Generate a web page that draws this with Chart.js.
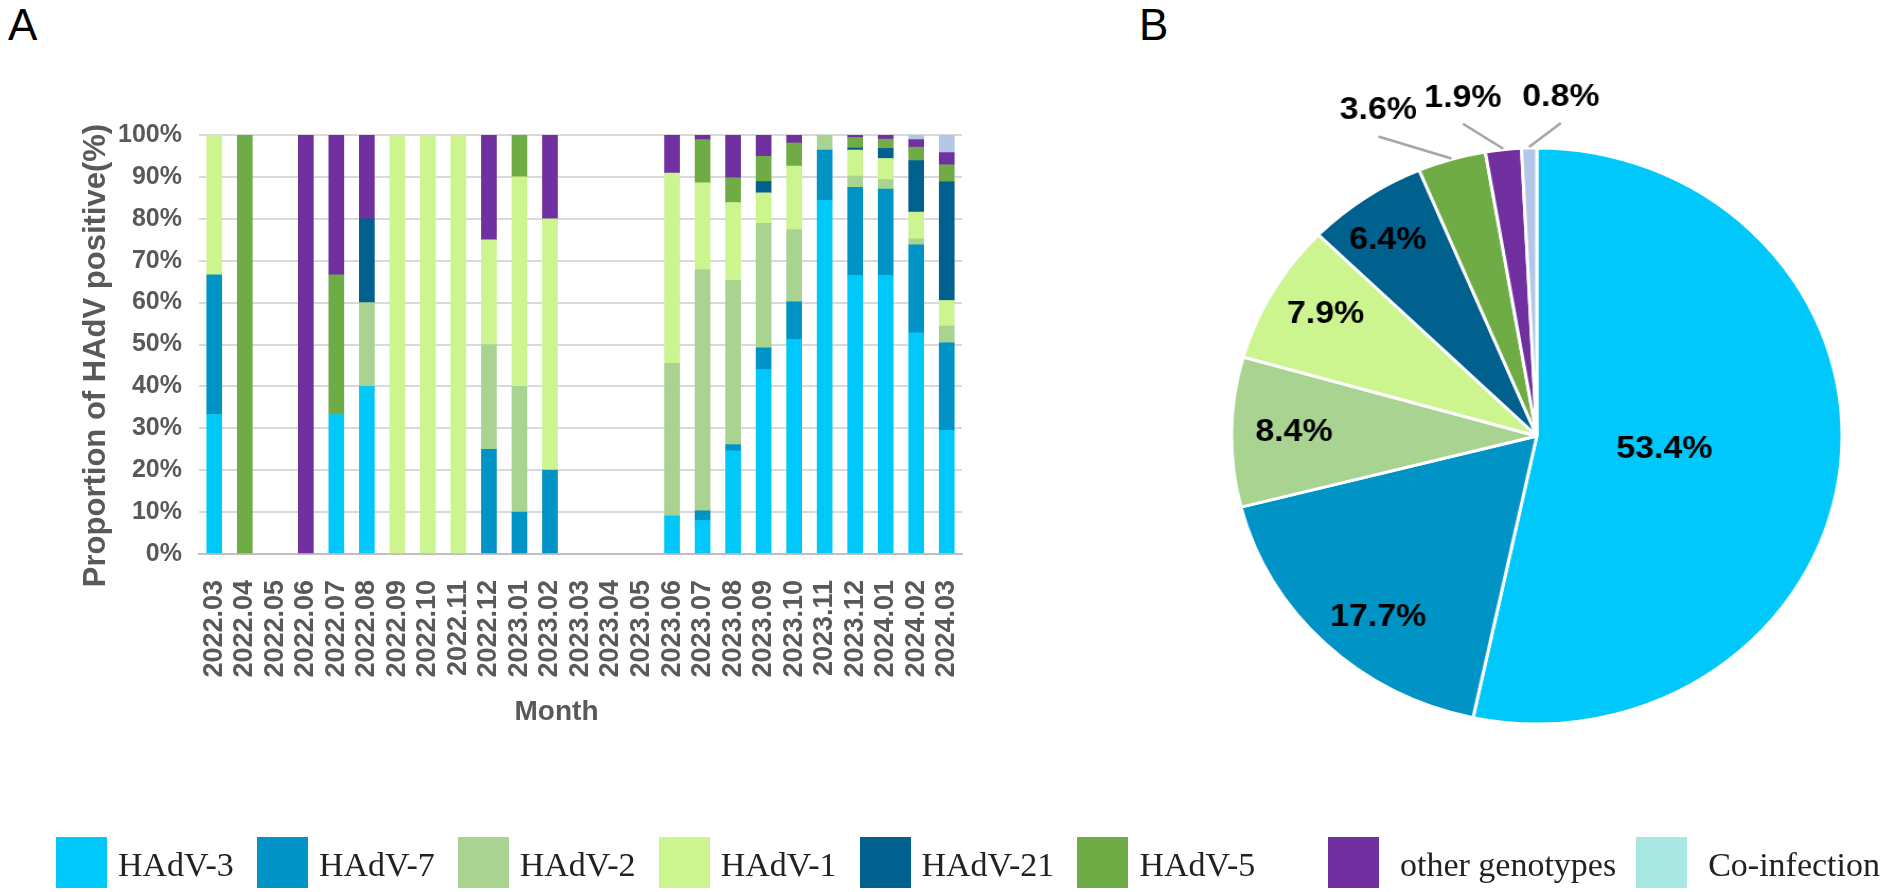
<!DOCTYPE html>
<html>
<head>
<meta charset="UTF-8" />
<title>HAdV genotypes</title>
<script src="https://cdn.jsdelivr.net/npm/chart.js"></script>
<style>
html, body { margin:0; padding:0; background:#fff; }
body { width:1890px; height:892px; position:relative; overflow:hidden; font-family:"Liberation Sans", Arial, sans-serif; }
.panel-tag { position:absolute; top:3px; font-size:44px; line-height:1; color:#000; }
#barBox { position:absolute; left:0; top:0; width:1000px; height:760px; }
#pieBox { position:absolute; left:1187px; top:0; width:660px; height:872px; transform:scaleX(1.06); transform-origin:0 0; }
.legend { position:absolute; top:837px; height:51px; display:flex; align-items:center; }
.legend .item { display:flex; align-items:center; }
.legend .sw { width:51px; height:51px; }
.legend .lbl { font-family:"Liberation Serif", "Times New Roman", serif; font-size:34px; line-height:1; color:#222; padding-top:4px; }
#legLeft { left:56px; }
#legLeft .item { margin-right:23px; }
#legLeft .sw { margin-right:11px; }
#legRight { right:10px; }
#legRight .item { margin-left:20px; }
#legRight .sw { margin-right:21px; }
</style>
</head>
<body>

<div class="panel-tag" style="left:8px;">A</div>
<div class="panel-tag" style="left:1139px;">B</div>

<div id="barBox"><canvas id="bar"></canvas></div>
<div id="pieBox"><canvas id="pie"></canvas></div>

<div class="legend" id="legLeft"></div>
<div class="legend" id="legRight"></div>

<script>
// months on the x axis of panel A
const months = ['2022.03','2022.04','2022.05','2022.06','2022.07','2022.08','2022.09','2022.10','2022.11','2022.12',
  '2023.01','2023.02','2023.03','2023.04','2023.05','2023.06','2023.07','2023.08','2023.09','2023.10',
  '2023.11','2023.12','2024.01','2024.02','2024.03'];

// share of each genotype per month (%)
const hadv3  = [33.3,0,0,0,33.3,40,0,0,0,0,0,0,0,0,0,9.1,8.0,24.6,44.1,51.2,84.4,66.5,66.5,52.8,29.5];
const hadv7  = [33.3,0,0,0,0,0,0,0,0,25,10,20,0,0,0,0,2.3,1.5,5.1,9.0,12.0,21.0,20.6,21.0,20.9];
const hadv2  = [0,0,0,0,0,20,0,0,0,25,30,0,0,0,0,36.4,57.6,39.2,29.7,17.2,3.6,2.7,2.3,1.4,4.0];
const hadv1  = [33.4,0,0,0,0,0,100,100,100,25,50,60,0,0,0,45.4,20.7,18.6,7.3,15.2,0,6.2,5.0,6.4,6.1];
const hadv21 = [0,0,0,0,0,20,0,0,0,0,0,0,0,0,0,0,0,0,2.7,0,0,0.5,2.4,12.3,28.3];
const hadv5  = [0,100,0,0,33.3,0,0,0,0,0,10,0,0,0,0,0,10.3,5.9,6.0,5.5,0,2.5,2.2,3.2,4.1];
const otherTypes  = [0,0,0,100,33.4,20,0,0,0,25,0,20,0,0,0,9.1,1.1,10.2,5.1,1.9,0,0.6,1.0,1.8,2.9];
const coInfection = [0,0,0,0,0,0,0,0,0,0,0,0,0,0,0,0,0,0,0,0,0,0,0,1.1,4.2];

// panel B, overall share (%)
const pieValues = [53.4, 17.7, 8.4, 7.9, 6.4, 3.6, 1.9, 0.8];

const seriesNames = ['HAdV-3','HAdV-7','HAdV-2','HAdV-1','HAdV-21','HAdV-5','other genotypes','Co-infection'];
const yTicks = [0,10,20,30,40,50,60,70,80,90,100];

const seriesColors = ['#00c8fa','#0094c6','#a9d390','#ccf590','#00608e','#6fac46','#7030a0','#b4c6e7'];
const legendColors = ['#00c8fa','#0094c6','#a9d390','#ccf590','#00608e','#6fac46','#7030a0','#a9e7e2'];

const grey = '#595959';
const sans = '"Liberation Sans", Arial, sans-serif';
Chart.defaults.font.family = sans;
Chart.defaults.color = grey;

const seriesData = [hadv3, hadv7, hadv2, hadv1, hadv21, hadv5, otherTypes, coInfection];

// axis titles drawn by hand so they can sit where the original put them
const axisTitles = {
  id: 'axisTitles',
  afterDraw(chart, args, o) {
    const { ctx, chartArea: a } = chart;
    ctx.save();
    ctx.fillStyle = grey;
    ctx.textAlign = 'center';
    ctx.textBaseline = 'middle';
    ctx.font = 'bold 31px ' + sans;
    ctx.translate(o.yX, (a.top + a.bottom) / 2 + o.yShift);
    ctx.rotate(-Math.PI / 2);
    ctx.fillText(o.yText, 0, 0);
    ctx.restore();
    ctx.save();
    ctx.fillStyle = grey;
    ctx.textAlign = 'center';
    ctx.textBaseline = 'middle';
    ctx.font = 'bold 28px ' + sans;
    ctx.fillText(o.xText, (a.left + a.right) / 2 + o.xShift, o.xY);
    ctx.restore();
  }
};

new Chart(document.getElementById('bar'), {
  type: 'bar',
  data: {
    labels: months,
    datasets: seriesData.map((d, i) => ({
      label: seriesNames[i],
      data: d.map(v => v || null),
      backgroundColor: seriesColors[i],
      borderWidth: 0,
      barThickness: 15
    }))
  },
  options: {
    responsive: true,
    maintainAspectRatio: false,
    animation: false,
    layout: { padding: { top: 135, right: 38, left: 0, bottom: 0 } },
    plugins: {
      legend: { display: false },
      tooltip: { enabled: false },
      axisTitles: { yText: 'Proportion of HAdV positive(%)', yX: 96, yShift: 11, xText: 'Month', xShift: -24, xY: 712 }
    },
    scales: {
      x: {
        stacked: true,
        grid: { display: false },
        border: { display: true, color: '#bfbfbf', width: 2 },
        ticks: {
          autoSkip: false, minRotation: 90, maxRotation: 90, padding: 18,
          font: { size: 27, weight: 'bold' }, color: grey
        },
        afterFit: s => { s.height = 206; }
      },
      y: {
        stacked: true,
        min: 0, max: 100,
        afterBuildTicks: s => { s.ticks = yTicks.map(v => ({ value: v })); },
        grid: { color: '#d9d9d9', lineWidth: 2, drawTicks: false },
        border: { display: false },
        ticks: {
          padding: 17, color: grey,
          font: { size: 25, weight: 'bold' },
          callback: v => v + '%'
        },
        afterFit: s => { s.width = 199; }
      }
    }
  },
  plugins: [axisTitles]
});

// percentage labels for the pie, small slices get a leader line
const pieLabels = {
  id: 'pieLabels',
  afterDatasetsDraw(chart, args, opts) {
    const ctx = chart.ctx;
    const arcs = chart.getDatasetMeta(0).data;
    ctx.save();
    ctx.font = 'bold 32px ' + sans;
    ctx.fillStyle = '#000';
    ctx.textAlign = 'center';
    ctx.textBaseline = 'middle';
    arcs.forEach((arc, i) => {
      const p = arc.getProps(['x','y','startAngle','endAngle','outerRadius'], true);
      const mid = (p.startAngle + p.endAngle) / 2;
      const txt = pieValues[i].toFixed(1) + '%';
      const out = opts.outside[i];
      if (out) {
        const ex = p.x + Math.cos(mid) * (p.outerRadius + 1);
        const ey = p.y + Math.sin(mid) * (p.outerRadius + 1);
        const lx = ex + out[0], ly = ey + out[1];
        ctx.strokeStyle = '#a6a6a6';
        ctx.lineWidth = 2.5;
        ctx.beginPath();
        ctx.moveTo(ex, ey);
        ctx.lineTo(lx, ly + 26);
        ctx.stroke();
        ctx.fillText(txt, lx, ly);
      } else {
        const f = (p.endAngle - p.startAngle) > Math.PI ? 0.42 : 0.82;
        const n = opts.inside[i] || [0, 0];
        ctx.fillText(txt, p.x + Math.cos(mid) * p.outerRadius * f + n[0], p.y + Math.sin(mid) * p.outerRadius * f + n[1]);
      }
    });
    ctx.restore();
  }
};

new Chart(document.getElementById('pie'), {
  type: 'pie',
  data: {
    labels: seriesNames,
    datasets: [{
      data: pieValues,
      backgroundColor: seriesColors,
      borderColor: '#fff',
      borderWidth: 3,
      hoverOffset: 0
    }]
  },
  options: {
    responsive: true,
    maintainAspectRatio: false,
    animation: false,
    radius: 288,
    layout: { padding: 0 },
    plugins: {
      legend: { display: false },
      tooltip: { enabled: false },
      pieLabels: {
        inside: { 1: [14, 11], 2: [7, 0], 3: [5, -3], 4: [-8, 0] },
        outside: { 5: [-69, -48], 6: [-38, -51], 7: [30, -50] }
      }
    }
  },
  plugins: [pieLabels]
});

// shared legend under both panels
function addLegend(boxId, from, to) {
  const box = document.getElementById(boxId);
  for (let i = from; i < to; i++) {
    const it = document.createElement('div');
    it.className = 'item';
    it.innerHTML = '<div class="sw" style="background:' + legendColors[i] + '"></div><div class="lbl">' + seriesNames[i] + '</div>';
    box.appendChild(it);
  }
}
addLegend('legLeft', 0, 6);
addLegend('legRight', 6, 8);
</script>

</body>
</html>
